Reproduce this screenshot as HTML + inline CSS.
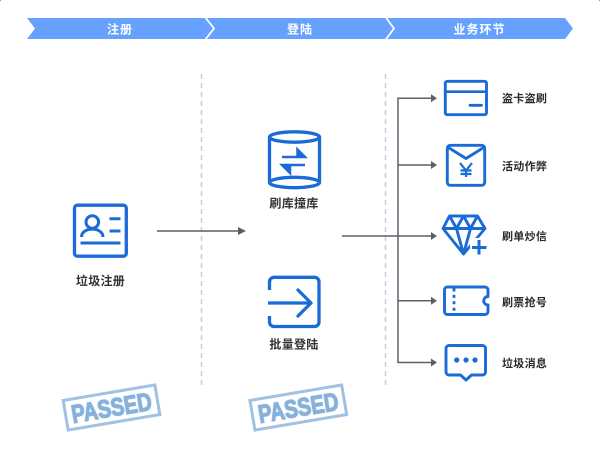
<!DOCTYPE html>
<html lang="zh">
<head>
<meta charset="utf-8">
<title>Diagram</title>
<style>
html,body{margin:0;padding:0;background:#fff;width:600px;height:450px;overflow:hidden}
svg{display:block}
text{font-family:"Liberation Sans","Noto Sans CJK SC",sans-serif}
.h{font-size:12px;font-weight:700;fill:#fff;text-anchor:middle;letter-spacing:1px}
.c{font-size:12px;font-weight:700;fill:#333;text-anchor:middle;letter-spacing:.3px}
.r{font-size:11px;font-weight:700;fill:#2b2b2b;letter-spacing:.3px}
.i{fill:none;stroke:#1a6bd6;stroke-width:2.9;stroke-linejoin:round}
.t{fill:none;stroke:#1a6bd6;stroke-width:3.3;stroke-linejoin:round}
.l{fill:none;stroke:#5c5f6b;stroke-width:1.5}
.a{fill:#5c5f6b}
.d{stroke:#c9ccda;stroke-width:1.5;stroke-dasharray:5 4;fill:none}
.st{font-size:25px;font-weight:700;fill:#86b1da;stroke:#86b1da;stroke-width:1.3;text-anchor:middle;font-family:"Liberation Sans",sans-serif}
.sg{filter:blur(.35px)}
</style>
</head>
<body>
<svg width="600" height="450" viewBox="0 0 600 450" xmlns="http://www.w3.org/2000/svg">
<rect width="600" height="450" fill="#fff"/>
<rect x="0" y="0" width="1" height="1" fill="#5aa6e8"/>
<rect x="599" y="0" width="1" height="1" fill="#5aa6e8"/>

<!-- header -->
<polygon points="27,18 565,18 573,28.5 565,39 27,39 35,28.5" fill="#66a1ff"/>
<polyline points="205,17 214,28.5 205,40" fill="none" stroke="#fff" stroke-width="1.800"/>
<polyline points="385.5,17 394,28.5 385.5,40" fill="none" stroke="#fff" stroke-width="1.800"/>
<text class="h" x="120" y="33.5">注册</text>
<text class="h" x="300" y="33.5">登陆</text>
<text class="h" x="479.500" y="33.500">业务环节</text>

<!-- dividers -->
<line class="d" x1="201.500" y1="74" x2="201.500" y2="387"/>
<line class="d" x1="385.500" y1="74" x2="385.500" y2="387"/>

<!-- id card -->
<rect class="t" x="74.500" y="205.200" width="51.800" height="51" rx="3"/>
<circle cx="92.300" cy="222" r="6.300" fill="none" stroke="#1a6bd6" stroke-width="3"/>
<path d="M81.500 237 C81.500 226.500 103 226.500 103 237" fill="none" stroke="#1a6bd6" stroke-width="3"/>
<path d="M109.500 218.700H120.500M109.500 231H120.500M80.500 243H120.500" stroke="#1a6bd6" stroke-width="3" fill="none"/>
<text class="c" x="100.500" y="285">垃圾注册</text>

<!-- arrow 1 -->
<line class="l" x1="157" y1="231" x2="240" y2="231"/>
<polygon class="a" points="238,227 246,231 238,235"/>

<!-- cylinder -->
<ellipse class="t" cx="294.500" cy="137" rx="25" ry="5.200"/>
<ellipse class="t" cx="294.500" cy="182.500" rx="25" ry="5.200"/>
<path class="t" d="M269.500 137V182.500M319.500 137V182.500"/>
<path d="M282 157H305L297.500 149.500V157" fill="#1a6bd6" stroke="#1a6bd6" stroke-width="2.500"/>
<path d="M305 165H282L290 173V165" fill="#1a6bd6" stroke="#1a6bd6" stroke-width="2.500"/>
<text class="c" x="294" y="207.500">刷库撞库</text>

<!-- login -->
<path class="t" d="M269.500 290V282A4.500 4.500 0 0 1 274 277.300H314.500A4.500 4.500 0 0 1 319 282V322A4.500 4.500 0 0 1 314.500 326.500H274A4.500 4.500 0 0 1 269.500 322V316"/>
<path d="M268 303H310" stroke="#1a6bd6" stroke-width="3.300" fill="none"/>
<path d="M298 290L311 303L298 316" stroke="#1a6bd6" stroke-width="3.300" fill="none" stroke-linecap="round" stroke-linejoin="round"/>
<text class="c" x="294" y="348.500">批量登陆</text>

<!-- connectors -->
<path class="l" d="M342 236H431M398 362.500V98.300"/>
<path class="l" d="M397.300 98.300H431M398 165H431M398 300.700H431M397.300 362.500H431"/>
<polygon class="a" points="431,94.300 437,98.300 431,102.300"/>
<polygon class="a" points="431,161 437,165 431,169"/>
<polygon class="a" points="431,232 437,236 431,240"/>
<polygon class="a" points="431,296.700 437,300.700 431,304.700"/>
<polygon class="a" points="431,358.500 437,362.500 431,366.500"/>

<!-- card -->
<rect class="i" x="445.300" y="81.300" width="41.200" height="33.400" rx="2"/>
<path d="M445 91.700H487" stroke="#1a6bd6" stroke-width="2.600" fill="none"/>
<path d="M470 105.300H481.500" stroke="#1a6bd6" stroke-width="2.800" fill="none" stroke-linecap="round"/>
<text class="r" x="502" y="102">盗卡盗刷</text>

<!-- envelope -->
<rect class="i" x="447.300" y="145.300" width="37.400" height="40" rx="3"/>
<path d="M447.500 147L466 158.500L484.500 147" class="i"/>
<path d="M460 163L466 170.500L472 163M466 170.500V177M460.500 170.500H471.500M460.500 174H471.500" stroke="#1a6bd6" stroke-width="2.200" fill="none"/>
<text class="r" x="502" y="170">活动作弊</text>

<!-- diamond -->
<path class="i" d="M449.500 216H477.500L485 228.500L463.500 254L443 228.500ZM443 228.500H485M449.500 216L456.500 228.500L463.500 216L470.500 228.500L477.500 216M456.500 228.500L463.500 254L470.500 228.500"/>
<rect x="470" y="238" width="18" height="18" fill="#fff"/>
<path d="M479 240V254.500M472 247.500H486.500" stroke="#1a6bd6" stroke-width="3" fill="none"/>
<text class="r" x="502" y="240">刷单炒信</text>

<!-- ticket -->
<path class="i" d="M447 287H485A3 3 0 0 1 488 290V296.500A4.200 4.200 0 0 0 488 305V311.500A3 3 0 0 1 485 314.500H447A3 3 0 0 1 444.500 311.500V290A3 3 0 0 1 447 287Z"/>
<path d="M454 288.500V314" stroke="#1a6bd6" stroke-width="2.800" stroke-dasharray="3 3.400" fill="none"/>
<text class="r" x="502" y="306">刷票抢号</text>

<!-- chat -->
<path class="i" d="M449 345.500H482.500A3 3 0 0 1 485.500 348.500V372A3 3 0 0 1 482.500 375H471.500L466 380L460.500 375H449A3 3 0 0 1 446 372V348.500A3 3 0 0 1 449 345.500Z"/>
<circle cx="456.700" cy="360" r="2.600" fill="#1a6bd6"/>
<circle cx="466" cy="360" r="2.600" fill="#1a6bd6"/>
<circle cx="475" cy="360" r="2.600" fill="#1a6bd6"/>
<text class="r" x="502" y="367">垃圾消息</text>

<!-- stamps -->
<g class="sg" transform="translate(111.500 407.500) rotate(-9.600)">
  <rect x="-46.500" y="-15" width="93" height="30" fill="none" stroke="#a0c1e2" stroke-width="3"/>
  <text class="st" x="0" y="9" textLength="81" lengthAdjust="spacingAndGlyphs">PASSED</text>
</g>
<g class="sg" transform="translate(298.300 407.500) rotate(-9.600)">
  <rect x="-46.500" y="-15" width="93" height="30" fill="none" stroke="#a0c1e2" stroke-width="3"/>
  <text class="st" x="0" y="9" textLength="81" lengthAdjust="spacingAndGlyphs">PASSED</text>
</g>
</svg>
</body>
</html>
